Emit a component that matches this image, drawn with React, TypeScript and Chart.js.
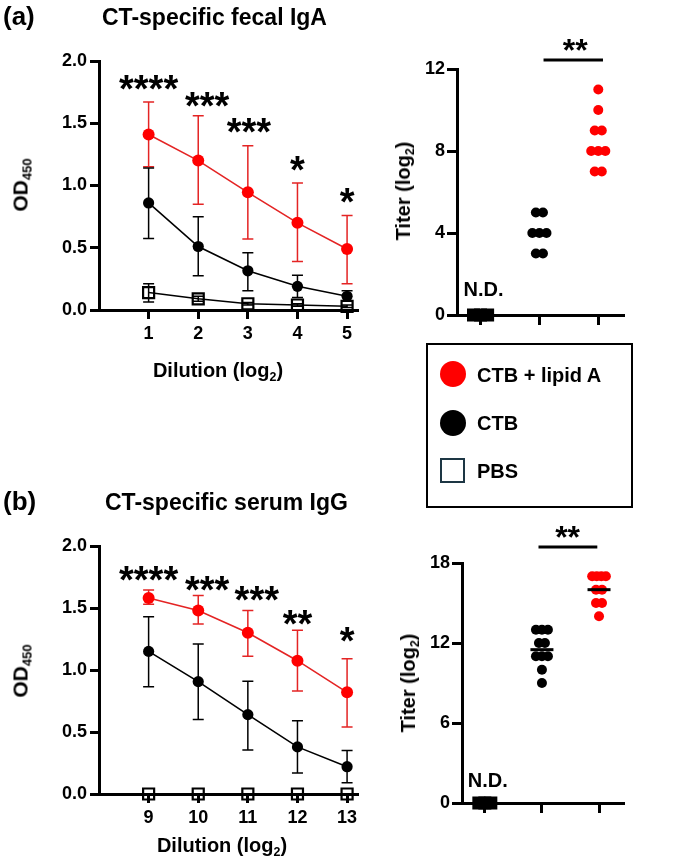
import React, { useEffect, useRef } from "react";
import { Chart, registerables } from "chart.js";
Chart.register(...registerables);

const W = 675;
const H = 857;
const FONT = '"Liberation Sans", Arial, Helvetica, sans-serif';
const RED = "#ff0000";
const RED_LINE = "#e42424";
const BLACK = "#000000";

// ---------- Panel (a): CT-specific fecal IgA ----------
const fecalDilutions = [1, 2, 3, 4, 5];
const fecalLipidMean = [1.41, 1.2, 0.945, 0.7, 0.49];
const fecalLipidHi = [1.67, 1.56, 1.32, 1.02, 0.76];
const fecalLipidLo = [1.15, 0.85, 0.57, 0.39, 0.21];
const fecalCtbMean = [0.86, 0.51, 0.315, 0.19, 0.11];
const fecalCtbHi = [1.14, 0.75, 0.46, 0.28, 0.155];
const fecalCtbLo = [0.575, 0.275, 0.155, 0.1, 0.07];
const fecalPbsMean = [0.14, 0.09, 0.05, 0.04, 0.03];
const fecalPbsHi = [0.21, 0.11, 0.06, 0.05, 0.04];
const fecalPbsLo = [0.065, 0.07, 0.04, 0.03, 0.02];
const fecalStars = ["****", "***", "***", "*", "*"];
const fecalStarX = [1, 2.18, 3.02, 4, 5];
const fecalStarY = [1.83, 1.69, 1.48, 1.18, 0.92];

const fecalTiterPbs = [0, 0, 0];
const fecalTiterCtb = [5, 5, 4, 4, 4, 3, 3];
const fecalTiterLipid = [11, 10, 9, 9, 8, 8, 8, 7, 7];
const fecalSigLabel = "**";
const fecalSigBarX = [2.07, 3.08];
const fecalSigBarY = 12.44;
const fecalSigTextX = 2.61;
const fecalSigTextY = 13.17;
const fecalNdY = 1.27;

// ---------- Panel (b): CT-specific serum IgG ----------
const serumDilutions = [9, 10, 11, 12, 13];
const serumLipidMean = [1.58, 1.48, 1.3, 1.075, 0.82];
const serumLipidHi = [1.645, 1.6, 1.48, 1.32, 1.09];
const serumLipidLo = [1.53, 1.37, 1.11, 0.83, 0.54];
const serumCtbMean = [1.15, 0.906, 0.64, 0.38, 0.22];
const serumCtbHi = [1.43, 1.21, 0.91, 0.59, 0.35];
const serumCtbLo = [0.865, 0.6, 0.355, 0.17, 0.09];
const serumPbsMean = [0, 0, 0, 0, 0];
const serumPbsHi = [0, 0, 0, 0, 0];
const serumPbsLo = [0, 0, 0, 0, 0];
const serumStars = ["****", "***", "***", "**", "*"];
const serumStarX = [9, 10.18, 11.18, 12, 13];
const serumStarY = [1.78, 1.7, 1.62, 1.42, 1.29];

const serumTiterPbs = [0, 0, 0];
const serumTiterCtb = [13, 13, 13, 12, 12, 11, 11, 11, 10, 9];
const serumTiterLipid = [17, 17, 17, 17, 16, 16, 15, 15, 14];
const serumMedians = [null, 11.5, 16];
const serumSigLabel = "**";
const serumSigBarX = [1.94, 2.97];
const serumSigBarY = 19.2;
const serumSigTextX = 2.45;
const serumSigTextY = 20.3;
const serumNdY = 1.73;

const legendLabels = ["CTB + lipid A", "CTB", "PBS"];

// ---------- helpers ----------
type Box = { L: number; T: number; R: number; B: number };
const Y_W = 60;
const X_H = 40;

function axisStyle(tickLen: number, fontSize: number, pad: number) {
  return {
    grid: {
      display: true,
      drawOnChartArea: false,
      drawTicks: true,
      tickLength: tickLen,
      color: BLACK,
      lineWidth: 3,
    },
    border: { display: true, color: BLACK, width: 3 },
    ticks: {
      color: BLACK,
      padding: pad,
      font: { family: FONT, size: fontSize, weight: "bold" as const },
    },
  };
}

function layoutPadding(box: Box) {
  return {
    left: box.L - Y_W,
    top: box.T,
    right: W - box.R,
    bottom: H - box.B - X_H,
  };
}

function centerText(ctx: CanvasRenderingContext2D, t: string, x: number, y: number) {
  const m = ctx.measureText(t);
  const off = (m.actualBoundingBoxAscent - m.actualBoundingBoxDescent) / 2;
  ctx.fillText(t, x, y + off);
}

const errorBarPlugin = {
  id: "errorBars",
  beforeDatasetsDraw(chart: any) {
    const { ctx, scales } = chart;
    const xs = scales.x;
    const ys = scales.y;
    ctx.save();
    chart.data.datasets.forEach((ds: any) => {
      if (!ds.errHi) return;
      ctx.strokeStyle = ds.errColor;
      ctx.lineWidth = 1.5;
      ds.data.forEach((p: any, i: number) => {
        const px = xs.getPixelForValue(p.x);
        const yh = ys.getPixelForValue(ds.errHi[i]);
        const yl = ys.getPixelForValue(ds.errLo[i]);
        if (Math.abs(yh - yl) < 0.5) return;
        ctx.beginPath();
        ctx.moveTo(px, yh);
        ctx.lineTo(px, yl);
        ctx.moveTo(px - 5.5, yh);
        ctx.lineTo(px + 5.5, yh);
        ctx.moveTo(px - 5.5, yl);
        ctx.lineTo(px + 5.5, yl);
        ctx.stroke();
      });
    });
    ctx.restore();
  },
};

function starsPlugin(labels: string[], xs: number[], ys: number[], size: number) {
  return {
    id: "stars",
    afterDraw(chart: any) {
      const { ctx, scales } = chart;
      ctx.save();
      ctx.font = `bold ${size}px ${FONT}`;
      ctx.fillStyle = BLACK;
      ctx.textAlign = "center";
      ctx.textBaseline = "alphabetic";
      labels.forEach((t, i) => {
        centerText(ctx, t, scales.x.getPixelForValue(xs[i]), scales.y.getPixelForValue(ys[i]));
      });
      ctx.restore();
    },
  };
}

function curveConfig(
  box: Box,
  xs: number[],
  xMin: number,
  xMax: number,
  lipid: number[][],
  ctb: number[][],
  pbs: number[][],
  stars: { labels: string[]; x: number[]; y: number[] }
): any {
  const mk = (v: number[]) => xs.map((x, i) => ({ x, y: v[i] }));
  const datasets = [
    {
      data: mk(lipid[0]),
      errHi: lipid[1],
      errLo: lipid[2],
      errColor: RED_LINE,
      borderColor: RED_LINE,
      borderWidth: 1.6,
      pointStyle: "circle",
      pointRadius: 6,
      pointBackgroundColor: RED,
      pointBorderColor: RED,
      pointBorderWidth: 0,
    },
    {
      data: mk(ctb[0]),
      errHi: ctb[1],
      errLo: ctb[2],
      errColor: BLACK,
      borderColor: BLACK,
      borderWidth: 1.6,
      pointStyle: "circle",
      pointRadius: 5.6,
      pointBackgroundColor: BLACK,
      pointBorderColor: BLACK,
      pointBorderWidth: 0,
    },
    {
      data: mk(pbs[0]),
      errHi: pbs[1],
      errLo: pbs[2],
      errColor: BLACK,
      borderColor: BLACK,
      borderWidth: 1.6,
      pointStyle: "rect",
      pointRadius: 7.8,
      pointBackgroundColor: "rgba(0,0,0,0)",
      pointBorderColor: BLACK,
      pointBorderWidth: 2.2,
    },
  ].map((d) => ({ ...d, showLine: true, tension: 0, clip: false, fill: false }));

  return {
    type: "line",
    data: { datasets },
    options: {
      responsive: false,
      animation: false,
      events: [],
      layout: { padding: layoutPadding(box) },
      plugins: { legend: { display: false }, tooltip: { enabled: false } },
      scales: {
        x: {
          type: "linear",
          min: xMin,
          max: xMax,
          ...axisStyle(9, 18, 4),
          afterBuildTicks: (s: any) => {
            s.ticks = xs.map((v) => ({ value: v }));
          },
          afterFit: (s: any) => {
            s.height = X_H;
          },
          ticks: {
            ...axisStyle(9, 18, 4).ticks,
            callback: (v: any) => String(v),
          },
        },
        y: {
          type: "linear",
          min: 0,
          max: 2,
          ...axisStyle(9, 18, 3),
          afterBuildTicks: (s: any) => {
            s.ticks = [0, 0.5, 1, 1.5, 2].map((v) => ({ value: v }));
          },
          afterFit: (s: any) => {
            s.width = Y_W;
          },
          ticks: {
            ...axisStyle(9, 18, 3).ticks,
            callback: (v: any) => Number(v).toFixed(1),
          },
        },
      },
    },
    plugins: [errorBarPlugin, starsPlugin(stars.labels, stars.x, stars.y, 38)],
  };
}

function jitter(values: number[], center: number, step: (n: number) => number) {
  const counts = new Map<number, number>();
  values.forEach((v) => counts.set(v, (counts.get(v) || 0) + 1));
  const seen = new Map<number, number>();
  return values.map((v) => {
    const n = counts.get(v)!;
    const i = seen.get(v) || 0;
    seen.set(v, i + 1);
    return { x: center + (i - (n - 1) / 2) * step(n), y: v };
  });
}

function titerConfig(
  box: Box,
  yMax: number,
  yTicks: number[],
  groups: number[][],
  step: (n: number) => number,
  medians: (number | null)[],
  sig: { label: string; barX: number[]; barY: number; tx: number; ty: number },
  ndY: number
): any {
  const datasets = [
    {
      data: jitter(groups[0], 1, step),
      pointStyle: "rect",
      pointRadius: 9.2,
      pointBackgroundColor: BLACK,
      pointBorderColor: BLACK,
      pointBorderWidth: 0,
    },
    {
      data: jitter(groups[1], 2, step),
      pointStyle: "circle",
      pointRadius: 5,
      pointBackgroundColor: BLACK,
      pointBorderColor: BLACK,
      pointBorderWidth: 0,
    },
    {
      data: jitter(groups[2], 3, step),
      pointStyle: "circle",
      pointRadius: 5,
      pointBackgroundColor: RED,
      pointBorderColor: RED,
      pointBorderWidth: 0,
    },
  ].map((d) => ({ ...d, showLine: false, clip: false }));

  const annot = {
    id: "titerAnnot",
    afterDraw(chart: any) {
      const { ctx, scales } = chart;
      const xs = scales.x;
      const ys = scales.y;
      ctx.save();
      ctx.strokeStyle = BLACK;
      ctx.lineWidth = 3;
      medians.forEach((m, i) => {
        if (m === null) return;
        const cx = xs.getPixelForValue(i + 1);
        const cy = ys.getPixelForValue(m);
        ctx.beginPath();
        ctx.moveTo(cx - 11.5, cy);
        ctx.lineTo(cx + 11.5, cy);
        ctx.stroke();
      });
      ctx.lineWidth = 3;
      ctx.beginPath();
      const by = ys.getPixelForValue(sig.barY);
      ctx.moveTo(xs.getPixelForValue(sig.barX[0]), by);
      ctx.lineTo(xs.getPixelForValue(sig.barX[1]), by);
      ctx.stroke();
      ctx.fillStyle = BLACK;
      ctx.textAlign = "center";
      ctx.textBaseline = "alphabetic";
      ctx.font = `bold 32px ${FONT}`;
      centerText(ctx, sig.label, xs.getPixelForValue(sig.tx), ys.getPixelForValue(sig.ty));
      ctx.font = `bold 20px ${FONT}`;
      centerText(ctx, "N.D.", xs.getPixelForValue(1) + 3, ys.getPixelForValue(ndY));
      ctx.restore();
    },
  };

  return {
    type: "scatter",
    data: { datasets },
    options: {
      responsive: false,
      animation: false,
      events: [],
      layout: { padding: layoutPadding(box) },
      plugins: { legend: { display: false }, tooltip: { enabled: false } },
      scales: {
        x: {
          type: "linear",
          min: 0.6,
          max: 3.42,
          ...axisStyle(10, 18, 4),
          afterBuildTicks: (s: any) => {
            s.ticks = [1, 2, 3].map((v) => ({ value: v }));
          },
          afterFit: (s: any) => {
            s.height = X_H;
          },
          ticks: { ...axisStyle(10, 18, 4).ticks, callback: () => "" },
        },
        y: {
          type: "linear",
          min: 0,
          max: yMax,
          ...axisStyle(10, 18, 2),
          afterBuildTicks: (s: any) => {
            s.ticks = yTicks.map((v) => ({ value: v }));
          },
          afterFit: (s: any) => {
            s.width = Y_W;
          },
          ticks: { ...axisStyle(10, 18, 2).ticks, callback: (v: any) => String(v) },
        },
      },
    },
    plugins: [annot],
  };
}

function ChartLayer({ make }: { make: () => any }) {
  const ref = useRef<HTMLCanvasElement | null>(null);
  useEffect(() => {
    if (!ref.current) return;
    const chart = new Chart(ref.current, make());
    return () => chart.destroy();
  }, []);
  return (
    <canvas
      ref={ref}
      width={W}
      height={H}
      style={{ position: "absolute", left: 0, top: 0, width: W, height: H }}
    />
  );
}

const subStyle: React.CSSProperties = {
  fontSize: "0.62em",
  verticalAlign: "baseline",
  position: "relative",
  top: "0.3em",
};

function Label({
  x,
  y,
  size,
  children,
  rotate,
  anchor = "center",
}: {
  x: number;
  y: number;
  size: number;
  children: React.ReactNode;
  rotate?: boolean;
  anchor?: "center" | "left";
}) {
  const tx = anchor === "center" ? "-50%" : "0";
  return (
    <div
      style={{
        position: "absolute",
        left: x,
        top: y,
        fontSize: size,
        lineHeight: 1,
        whiteSpace: "nowrap",
        transform: `translate(${tx}, -50%)${rotate ? " rotate(-90deg)" : ""}`,
      }}
    >
      {children}
    </div>
  );
}

export default function App() {
  const boxAL: Box = { L: 99, T: 61, R: 357, B: 310 };
  const boxAR: Box = { L: 457, T: 69, R: 623, B: 315 };
  const boxBL: Box = { L: 99, T: 546, R: 357, B: 794 };
  const boxBR: Box = { L: 462, T: 563, R: 623, B: 803 };

  return (
    <div
      style={{
        position: "absolute",
        left: 0,
        top: 0,
        width: W,
        height: H,
        background: "#fff",
        fontFamily: FONT,
        fontWeight: "bold",
        color: BLACK,
        overflow: "hidden",
      }}
    >
      <ChartLayer
        make={() =>
          curveConfig(
            boxAL,
            fecalDilutions,
            0,
            5.2,
            [fecalLipidMean, fecalLipidHi, fecalLipidLo],
            [fecalCtbMean, fecalCtbHi, fecalCtbLo],
            [fecalPbsMean, fecalPbsHi, fecalPbsLo],
            { labels: fecalStars, x: fecalStarX, y: fecalStarY }
          )
        }
      />
      <ChartLayer
        make={() =>
          curveConfig(
            boxBL,
            serumDilutions,
            8,
            13.2,
            [serumLipidMean, serumLipidHi, serumLipidLo],
            [serumCtbMean, serumCtbHi, serumCtbLo],
            [serumPbsMean, serumPbsHi, serumPbsLo],
            { labels: serumStars, x: serumStarX, y: serumStarY }
          )
        }
      />
      <ChartLayer
        make={() =>
          titerConfig(
            boxAR,
            12,
            [0, 4, 8, 12],
            [fecalTiterPbs, fecalTiterCtb, fecalTiterLipid],
            () => 0.12,
            [null, null, null],
            { label: fecalSigLabel, barX: fecalSigBarX, barY: fecalSigBarY, tx: fecalSigTextX, ty: fecalSigTextY },
            fecalNdY
          )
        }
      />
      <ChartLayer
        make={() =>
          titerConfig(
            boxBR,
            18,
            [0, 6, 12, 18],
            [serumTiterPbs, serumTiterCtb, serumTiterLipid],
            (n) => (n >= 4 ? 0.08 : 0.105),
            serumMedians,
            { label: serumSigLabel, barX: serumSigBarX, barY: serumSigBarY, tx: serumSigTextX, ty: serumSigTextY },
            serumNdY
          )
        }
      />

      <Label x={3} y={16} size={26} anchor="left">(a)</Label>
      <Label x={102} y={17} size={23} anchor="left">CT-specific fecal IgA</Label>
      <Label x={3} y={501} size={26} anchor="left">(b)</Label>
      <Label x={105} y={502} size={23} anchor="left">CT-specific serum IgG</Label>

      <Label x={20} y={185} size={21} rotate>
        OD<span style={subStyle}>450</span>
      </Label>
      <Label x={20} y={671} size={21} rotate>
        OD<span style={subStyle}>450</span>
      </Label>
      <Label x={218} y={370} size={20}>
        Dilution (log<span style={subStyle}>2</span>)
      </Label>
      <Label x={222} y={845} size={20}>
        Dilution (log<span style={subStyle}>2</span>)
      </Label>
      <Label x={403} y={191} size={20} rotate>
        Titer (log<span style={subStyle}>2</span>)
      </Label>
      <Label x={408} y={683} size={20} rotate>
        Titer (log<span style={subStyle}>2</span>)
      </Label>

      <div
        style={{
          position: "absolute",
          left: 426,
          top: 343,
          width: 207,
          height: 165,
          border: "2px solid #000",
          boxSizing: "border-box",
        }}
      >
        <div
          style={{
            position: "absolute",
            left: 27 - 2 - 13,
            top: 31 - 2 - 13,
            width: 26,
            height: 26,
            borderRadius: "50%",
            background: RED,
          }}
        />
        <div
          style={{
            position: "absolute",
            left: 27 - 2 - 13,
            top: 80 - 2 - 13,
            width: 26,
            height: 26,
            borderRadius: "50%",
            background: BLACK,
          }}
        />
        <div
          style={{
            position: "absolute",
            left: 14 - 2,
            top: 115 - 2,
            width: 25,
            height: 25,
            border: "2px solid #1d3644",
            boxSizing: "border-box",
          }}
        />
      </div>
      <Label x={477} y={375} size={20} anchor="left">{legendLabels[0]}</Label>
      <Label x={477} y={423} size={20} anchor="left">{legendLabels[1]}</Label>
      <Label x={477} y={471} size={20} anchor="left">{legendLabels[2]}</Label>
    </div>
  );
}
